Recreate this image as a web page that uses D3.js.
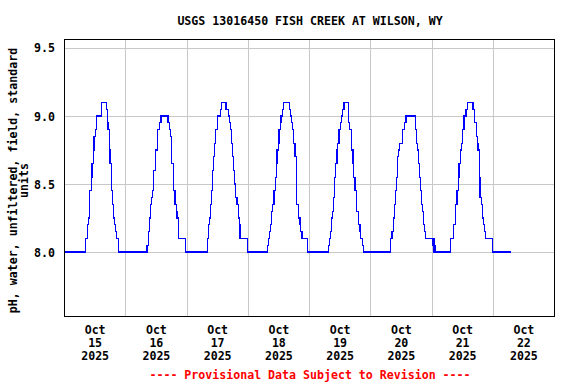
<!DOCTYPE html>
<html>
<head>
<meta charset="utf-8">
<script src="https://cdn.jsdelivr.net/npm/d3@7"></script>
<style>
  html, body { margin: 0; padding: 0; background: #fff; }
  svg text { font-family: "DejaVu Sans Mono", monospace; font-weight: bold; }
</style>
</head>
<body>
<svg id="chart" width="576" height="384"></svg>
<script>
// ---------------- data ----------------
const title = "USGS 13016450 FISH CREEK AT WILSON, WY";
const yLabelLines = ["pH, water, unfiltered, field, standard", "units"];
const footer = "---- Provisional Data Subject to Revision ----";

const yTicks = [8.0, 8.5, 9.0, 9.5];
const yDomain = [7.53, 9.566];
const xDomain = ["2025-10-15 00:00", "2025-10-23 00:00"];
const xTickDays = ["2025-10-15", "2025-10-16", "2025-10-17", "2025-10-18",
                   "2025-10-19", "2025-10-20", "2025-10-21", "2025-10-22"];

// step changes of the pH record (value holds until next time)
const times = [
  "2025-10-15 00:00","2025-10-15 08:30","2025-10-15 09:15","2025-10-15 09:45","2025-10-15 10:00",
  "2025-10-15 10:45","2025-10-15 11:00","2025-10-15 11:30","2025-10-15 11:45","2025-10-15 12:15",
  "2025-10-15 12:45","2025-10-15 14:45","2025-10-15 16:30","2025-10-15 17:00","2025-10-15 17:15",
  "2025-10-15 17:45","2025-10-15 18:00","2025-10-15 18:30","2025-10-15 19:00","2025-10-15 19:15",
  "2025-10-15 19:45","2025-10-15 20:15","2025-10-15 20:30","2025-10-15 21:15",
  "2025-10-16 08:30","2025-10-16 09:00","2025-10-16 09:30","2025-10-16 09:45","2025-10-16 10:15",
  "2025-10-16 10:45","2025-10-16 11:00","2025-10-16 11:45","2025-10-16 12:00","2025-10-16 12:30",
  "2025-10-16 12:45","2025-10-16 13:30","2025-10-16 14:00","2025-10-16 16:45","2025-10-16 17:15",
  "2025-10-16 17:45","2025-10-16 18:15","2025-10-16 18:45","2025-10-16 19:00","2025-10-16 19:30",
  "2025-10-16 20:00","2025-10-16 20:15","2025-10-16 20:45","2025-10-16 21:00","2025-10-16 23:45",
  "2025-10-17 08:15","2025-10-17 08:45","2025-10-17 09:00","2025-10-17 09:30","2025-10-17 09:45",
  "2025-10-17 10:15","2025-10-17 10:30","2025-10-17 11:00","2025-10-17 11:30","2025-10-17 12:15",
  "2025-10-17 13:15","2025-10-17 13:45","2025-10-17 15:30","2025-10-17 16:30","2025-10-17 16:45",
  "2025-10-17 17:15","2025-10-17 17:30","2025-10-17 18:00","2025-10-17 18:30","2025-10-17 18:45",
  "2025-10-17 19:15","2025-10-17 19:45","2025-10-17 20:15","2025-10-17 20:45","2025-10-17 21:00",
  "2025-10-18 00:00",
  "2025-10-18 07:45","2025-10-18 08:15","2025-10-18 08:30","2025-10-18 09:00","2025-10-18 09:15",
  "2025-10-18 09:45","2025-10-18 10:15","2025-10-18 10:45","2025-10-18 11:15","2025-10-18 11:30",
  "2025-10-18 12:00","2025-10-18 12:15","2025-10-18 12:45","2025-10-18 13:00","2025-10-18 13:30",
  "2025-10-18 14:00","2025-10-18 16:15","2025-10-18 16:45","2025-10-18 17:15","2025-10-18 17:30",
  "2025-10-18 18:00","2025-10-18 18:30","2025-10-18 19:00","2025-10-18 19:15","2025-10-18 19:45",
  "2025-10-18 20:30","2025-10-18 20:45","2025-10-18 21:15","2025-10-18 23:30",
  "2025-10-19 07:45","2025-10-19 08:00","2025-10-19 08:30","2025-10-19 08:45","2025-10-19 09:15",
  "2025-10-19 09:30","2025-10-19 10:00","2025-10-19 10:30","2025-10-19 11:00","2025-10-19 11:15",
  "2025-10-19 11:45","2025-10-19 12:15","2025-10-19 12:45","2025-10-19 13:00","2025-10-19 13:45",
  "2025-10-19 15:30","2025-10-19 16:00","2025-10-19 16:30","2025-10-19 16:45","2025-10-19 17:15",
  "2025-10-19 17:30","2025-10-19 18:00","2025-10-19 18:30","2025-10-19 18:45","2025-10-19 19:15",
  "2025-10-19 19:30","2025-10-19 20:00","2025-10-19 20:15","2025-10-19 21:00","2025-10-19 21:30",
  "2025-10-20 08:00","2025-10-20 08:30","2025-10-20 09:00","2025-10-20 09:30","2025-10-20 09:45",
  "2025-10-20 10:15","2025-10-20 10:45","2025-10-20 11:00","2025-10-20 11:30","2025-10-20 12:30",
  "2025-10-20 13:30","2025-10-20 14:00","2025-10-20 17:45","2025-10-20 18:00","2025-10-20 18:30",
  "2025-10-20 18:45","2025-10-20 19:15","2025-10-20 19:45","2025-10-20 20:00","2025-10-20 20:30",
  "2025-10-20 20:45","2025-10-20 21:15","2025-10-20 21:30",
  "2025-10-21 00:30","2025-10-21 00:45","2025-10-21 01:00","2025-10-21 01:15","2025-10-21 01:30",
  "2025-10-21 07:30","2025-10-21 08:30","2025-10-21 08:45","2025-10-21 09:15","2025-10-21 09:30",
  "2025-10-21 10:00","2025-10-21 10:30","2025-10-21 10:45","2025-10-21 11:15","2025-10-21 11:45",
  "2025-10-21 12:15","2025-10-21 12:45","2025-10-21 13:30","2025-10-21 14:00","2025-10-21 16:15",
  "2025-10-21 16:45","2025-10-21 17:00","2025-10-21 17:30","2025-10-21 18:00","2025-10-21 18:15",
  "2025-10-21 18:45","2025-10-21 19:00","2025-10-21 19:30","2025-10-21 20:00","2025-10-21 20:15",
  "2025-10-21 20:45","2025-10-21 21:15","2025-10-21 23:45","2025-10-22 07:15"
];
const phValues = [
  8.0, 8.1, 8.2, 8.25, 8.45,
  8.55, 8.65, 8.75, 8.85, 8.9,
  9.0, 9.1, 9.05, 8.95, 8.9,
  8.75, 8.65, 8.45, 8.35, 8.25,
  8.2, 8.15, 8.1, 8.0,
  8.05, 8.15, 8.25, 8.35, 8.4,
  8.45, 8.6, 8.7, 8.75, 8.8,
  8.9, 8.95, 9.0, 8.95, 8.9,
  8.85, 8.65, 8.55, 8.45, 8.35,
  8.3, 8.25, 8.2, 8.1, 8.0,
  8.1, 8.2, 8.25, 8.35, 8.45,
  8.6, 8.7, 8.8, 8.9, 9.0,
  9.05, 9.1, 9.05, 9.0, 8.95,
  8.9, 8.8, 8.7, 8.6, 8.5,
  8.4, 8.35, 8.25, 8.2, 8.1,
  8.0,
  8.05, 8.1, 8.15, 8.2, 8.3,
  8.35, 8.45, 8.55, 8.65, 8.75,
  8.8, 8.9, 8.95, 9.0, 9.05,
  9.1, 9.05, 9.0, 8.95, 8.9,
  8.8, 8.7, 8.55, 8.35, 8.25,
  8.2, 8.15, 8.1, 8.0,
  8.05, 8.1, 8.15, 8.25, 8.3,
  8.4, 8.55, 8.65, 8.75, 8.8,
  8.9, 8.95, 9.0, 9.05, 9.1,
  8.95, 8.9, 8.85, 8.75, 8.65,
  8.55, 8.45, 8.35, 8.3, 8.25,
  8.2, 8.15, 8.1, 8.05, 8.0,
  8.1, 8.15, 8.25, 8.35, 8.45,
  8.55, 8.7, 8.75, 8.8, 8.9,
  8.95, 9.0, 8.9, 8.8, 8.75,
  8.65, 8.55, 8.45, 8.35, 8.3,
  8.2, 8.15, 8.1,
  8.05, 8.1, 8.0, 8.05, 8.0,
  8.1, 8.15, 8.2, 8.3, 8.35,
  8.45, 8.55, 8.65, 8.75, 8.8,
  8.9, 9.0, 9.05, 9.1, 9.05,
  9.0, 8.95, 8.85, 8.8, 8.75,
  8.55, 8.4, 8.35, 8.25, 8.2,
  8.15, 8.1, 8.0, 8.0
];

// ---------------- chart ----------------
const parseT = d3.timeParse("%Y-%m-%d %H:%M");
const parseD = d3.timeParse("%Y-%m-%d");
const data = times.map((t, i) => ({ t: parseT(t), v: phValues[i] }));

const svg = d3.select("#chart");
const plot = { left: 64, right: 554, top: 39, bottom: 316 };

const x = d3.scaleTime().domain(xDomain.map(parseT)).range([plot.left, plot.right]);
const y = d3.scaleLinear().domain(yDomain).range([plot.bottom, plot.top]);

const font = "11.6px";

// title
svg.append("text")
  .attr("x", (plot.left + plot.right) / 2 + 1)
  .attr("y", 25)
  .attr("text-anchor", "middle")
  .style("font-size", font)
  .attr("fill", "#000")
  .text(title);

// gridlines
const g = svg.append("g").attr("shape-rendering", "crispEdges");
const dayTicks = d3.timeDay.range(x.domain()[0], x.domain()[1]).slice(1);
g.selectAll("line.vg").data(dayTicks).join("line")
  .attr("class", "vg")
  .attr("x1", d => Math.round(x(d)) + 0.5).attr("x2", d => Math.round(x(d)) + 0.5)
  .attr("y1", plot.top).attr("y2", plot.bottom)
  .attr("stroke", "#c8c8c8").attr("stroke-width", 1);
g.selectAll("line.hg").data(yTicks).join("line")
  .attr("class", "hg")
  .attr("y1", d => Math.round(y(d)) + 0.5).attr("y2", d => Math.round(y(d)) + 0.5)
  .attr("x1", plot.left).attr("x2", plot.right)
  .attr("stroke", "#c8c8c8").attr("stroke-width", 1);

// data line
const line = d3.line()
  .x(d => x(d.t))
  .y(d => y(d.v))
  .curve(d3.curveStepAfter);
svg.append("path")
  .datum(data)
  .attr("d", line)
  .attr("fill", "none")
  .attr("stroke", "#0000ff")
  .attr("stroke-width", 1.2)
  .attr("shape-rendering", "crispEdges");

// frame
svg.append("rect")
  .attr("x", plot.left + 0.5).attr("y", plot.top + 0.5)
  .attr("width", plot.right - plot.left).attr("height", plot.bottom - plot.top)
  .attr("fill", "none").attr("stroke", "#000").attr("stroke-width", 1.2)
  .attr("shape-rendering", "crispEdges");

// y tick labels
const yFmt = d3.format(".1f");
svg.selectAll("text.yt").data(yTicks).join("text")
  .attr("class", "yt")
  .attr("x", 55)
  .attr("y", d => y(d) + 4.5)
  .attr("text-anchor", "end")
  .style("font-size", font)
  .text(d => yFmt(d));

// x tick labels (at noon of each day)
const fMon = d3.timeFormat("%b"), fDay = d3.timeFormat("%d"), fYear = d3.timeFormat("%Y");
const xl = svg.selectAll("g.xt").data(xTickDays.map(parseD)).join("g")
  .attr("class", "xt")
  .attr("transform", d => `translate(${x(d3.timeHour.offset(d, 12)) + 0.5},0)`);
xl.append("text").attr("y", 334).attr("text-anchor", "middle").style("font-size", font).text(d => fMon(d));
xl.append("text").attr("y", 347).attr("text-anchor", "middle").style("font-size", font).text(d => fDay(d));
xl.append("text").attr("y", 360).attr("text-anchor", "middle").style("font-size", font).text(d => fYear(d));

// y axis label
const yl = svg.append("text")
  .attr("transform", `translate(0,${(plot.top + plot.bottom) / 2 + 3}) rotate(-90)`)
  .attr("text-anchor", "middle")
  .style("font-size", font);
yl.selectAll("tspan").data(yLabelLines).join("tspan")
  .attr("x", 0)
  .attr("y", (d, i) => 17 + i * 10.5)
  .text(d => d);

// footer
svg.append("text")
  .attr("x", (plot.left + plot.right) / 2 + 1)
  .attr("y", 379)
  .attr("text-anchor", "middle")
  .style("font-size", font)
  .attr("fill", "#ff0000")
  .text(footer);
</script>
</body>
</html>
